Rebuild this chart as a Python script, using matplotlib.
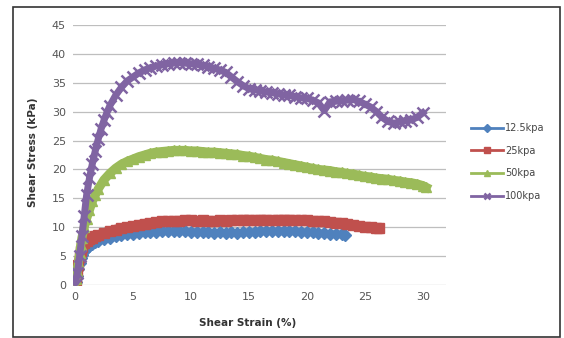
import matplotlib
matplotlib.use("Agg")
import matplotlib.pyplot as plt
from matplotlib.patches import Rectangle

# ---- dati ----
labels = ['12.5kpa', '25kpa', '50kpa', '100kpa']

strain_125 = [0, 0.1, 0.2, 0.3, 0.4, 0.5, 0.6, 0.8, 1.0, 1.25, 1.5, 1.75, 2.0, 2.5, 3.0, 3.5, 4.0, 4.5,
              5.0, 5.5, 6.0, 6.5, 7.0, 7.5, 8.0, 8.5, 9.0, 9.5, 10.0, 10.5, 11.0, 11.5, 12.0, 12.5,
              13.0, 13.5, 14.0, 14.5, 15.0, 15.5, 16.0, 16.5, 17.0, 17.5, 18.0, 18.5, 19.0, 19.5,
              20.0, 20.5, 21.0, 21.5, 22.0, 22.5, 23.0, 23.3]
stress_125 = [0, 0.5, 1.5, 2.8, 3.8, 4.6, 5.2, 5.9, 6.4, 6.8, 7.1, 7.4, 7.6, 7.9, 8.2, 8.4, 8.6, 8.8,
              8.9, 9.0, 9.1, 9.2, 9.2, 9.3, 9.3, 9.3, 9.3, 9.3, 9.2, 9.2, 9.1, 9.1, 9.0, 9.1,
              9.0, 9.1, 9.0, 9.1, 9.2, 9.2, 9.3, 9.3, 9.3, 9.3, 9.4, 9.3, 9.3, 9.2,
              9.2, 9.1, 9.0, 9.0, 8.9, 8.8, 8.8, 8.7]

strain_25 = [0, 0.1, 0.2, 0.3, 0.4, 0.5, 0.6, 0.8, 1.0, 1.25, 1.5, 1.75, 2.0, 2.5, 3.0, 3.5, 4.0, 4.5,
             5.0, 5.5, 6.0, 6.5, 7.0, 7.5, 8.0, 8.5, 9.0, 9.5, 10.0, 10.5, 11.0, 11.5, 12.0, 12.5,
             13.0, 13.5, 14.0, 14.5, 15.0, 15.5, 16.0, 16.5, 17.0, 17.5, 18.0, 18.5, 19.0, 19.5,
             20.0, 20.5, 21.0, 21.5, 22.0, 22.5, 23.0, 23.5, 24.0, 24.5, 25.0, 25.5, 26.0, 26.2]
stress_25 = [0, 0.8, 2.0, 3.5, 4.8, 5.8, 6.5, 7.2, 7.6, 7.9, 8.2, 8.4, 8.6, 9.0, 9.3, 9.6, 9.8, 10.0,
             10.2, 10.4, 10.6, 10.7, 10.9, 11.0, 11.0, 11.1, 11.1, 11.2, 11.2, 11.1, 11.2, 11.1, 11.1, 11.2,
             11.1, 11.2, 11.2, 11.3, 11.3, 11.2, 11.3, 11.3, 11.2, 11.3, 11.3, 11.3, 11.2, 11.2,
             11.2, 11.1, 11.0, 11.0, 10.9, 10.8, 10.7, 10.5, 10.4, 10.2, 10.1, 10.0, 9.9, 9.8]

strain_50 = [0, 0.1, 0.2, 0.3, 0.4, 0.5, 0.6, 0.8, 1.0, 1.25, 1.5, 1.75, 2.0, 2.5, 3.0, 3.5, 4.0, 4.5,
             5.0, 5.5, 6.0, 6.5, 7.0, 7.5, 8.0, 8.5, 9.0, 9.5, 10.0, 10.5, 11.0, 11.5, 12.0, 12.5,
             13.0, 13.5, 14.0, 14.5, 15.0, 15.5, 16.0, 16.5, 17.0, 17.5, 18.0, 18.5, 19.0, 19.5,
             20.0, 20.5, 21.0, 21.5, 22.0, 22.5, 23.0, 23.5, 24.0, 24.5, 25.0, 25.5, 26.0, 26.5,
             27.0, 27.5, 28.0, 28.5, 29.0, 29.5, 30.0, 30.3]
stress_50 = [0, 1.0, 2.5, 4.0, 5.5, 7.0, 8.2, 10.0, 11.5, 13.0, 14.5, 15.6, 16.6, 18.2, 19.3, 20.2, 20.9, 21.4,
             21.8, 22.2, 22.5, 22.8, 23.0, 23.1, 23.2, 23.3, 23.3, 23.3, 23.2, 23.2, 23.1, 23.0, 23.0, 22.9,
             22.8, 22.7, 22.6, 22.4, 22.3, 22.1, 21.9, 21.7, 21.6, 21.4, 21.2, 21.0, 20.8, 20.6,
             20.4, 20.2, 20.0, 19.9, 19.8, 19.6, 19.5, 19.3, 19.2, 19.0, 18.8, 18.7, 18.5, 18.4,
             18.3, 18.1, 18.0, 17.8, 17.7, 17.5, 17.2, 16.9]

strain_100 = [0, 0.2, 0.4, 0.6, 0.8, 1.0, 1.25, 1.5, 1.75, 2.0, 2.25, 2.5, 2.75, 3.0, 3.5, 4.0, 4.5,
              5.0, 5.5, 6.0, 6.5, 7.0, 7.5, 8.0, 8.5, 9.0, 9.5, 10.0, 10.5, 11.0, 11.5, 12.0, 12.5,
              13.0, 13.5, 14.0, 14.5, 15.0, 15.5, 16.0, 16.5, 17.0, 17.5, 18.0, 18.5, 19.0, 19.5,
              20.0, 20.5, 21.0, 21.5, 22.0, 22.5, 23.0, 23.5, 24.0, 24.5, 25.0, 25.5, 26.0, 26.5,
              27.0, 27.5, 28.0, 28.5, 29.0, 29.5, 30.0]
stress_100 = [0, 2.0, 5.0, 8.5, 12.0, 15.5, 18.5, 21.0, 23.2, 25.2, 27.0, 28.5, 29.8, 31.0, 32.8, 34.2, 35.3,
              36.0, 36.7, 37.2, 37.6, 37.9, 38.1, 38.3, 38.4, 38.5, 38.4, 38.3, 38.2, 38.0, 37.8, 37.5, 37.2,
              36.8, 36.0, 35.2, 34.5, 34.0, 33.8, 33.6, 33.4, 33.3, 33.1, 32.9, 32.8, 32.6, 32.4,
              32.3, 32.0, 31.5, 30.2, 31.7, 31.8, 31.9, 32.0, 32.1, 31.8, 31.3, 30.8, 30.0, 29.0,
              28.3, 28.0, 28.2, 28.4, 28.6, 29.0, 29.8]

xticks = [0, 5, 10, 15, 20, 25, 30]
yticks = [0, 5, 10, 15, 20, 25, 30, 35, 40, 45]

colori = ['#4F81BD', '#C0504D', '#9BBB59', '#8064A2']
marker = ['D', 's', '^', 'x']
spessori = [5, 7, 6.5, 5]   # spessore della "banda" di punti

fig = plt.figure(figsize=(5.64, 3.38), dpi=100)
ax = fig.add_axes([73 / 564, 1 - 285 / 338, (446 - 73) / 564, (285 - 25) / 338])

serie = [(strain_125, stress_125), (strain_25, stress_25), (strain_50, stress_50), (strain_100, stress_100)]
for (x, y), lab, c, m, w in zip(serie, labels, colori, marker, spessori):
    if m == 'x':
        ax.plot(x, y, color=c, lw=w, marker=m, ms=8, mew=1.8, label=lab)
    else:
        ax.plot(x, y, color=c, lw=w, marker=m, ms=6.5, mec=c, label=lab)

ax.set_xlim(-0.17, 32)
ax.set_ylim(0, 45)
ax.set_xticks(xticks)
ax.set_yticks(yticks)
ax.grid(axis='y', color='#BEBEBE', lw=0.9)
ax.set_axisbelow(True)
for s in ['top', 'right', 'left', 'bottom']:
    ax.spines[s].set_visible(False)
ax.tick_params(length=0, labelsize=8, labelcolor='#555555', pad=5)

fig.text(33 / 564, 1 - 152 / 338, 'Shear Stress (kPa)', rotation=90, ha='center', va='center',
         fontsize=7.5, fontweight='bold', color='#333333')
fig.text(248 / 564, 1 - 323 / 338, 'Shear Strain (%)', ha='center', va='center',
         fontsize=7.5, fontweight='bold', color='#333333')

handles, lbls = ax.get_legend_handles_labels()
leg = fig.legend(handles, lbls, loc='center left', bbox_to_anchor=(462 / 564, 1 - 162 / 338),
                 frameon=False, fontsize=7, handlelength=3.3, handletextpad=0.2, labelspacing=1.3,
                 markerscale=0.6)
for t in leg.get_texts():
    t.set_color('#444444')
for l in leg.get_lines():
    l.set_linewidth(2)

# cornice esterna
fig.patches.append(Rectangle((13 / 564, 1 / 338), (560 - 13) / 564, (331 - 1) / 338,
                             transform=fig.transFigure, fill=False, edgecolor='#333333', lw=1.2))

fig.savefig('out.png', dpi=100)
